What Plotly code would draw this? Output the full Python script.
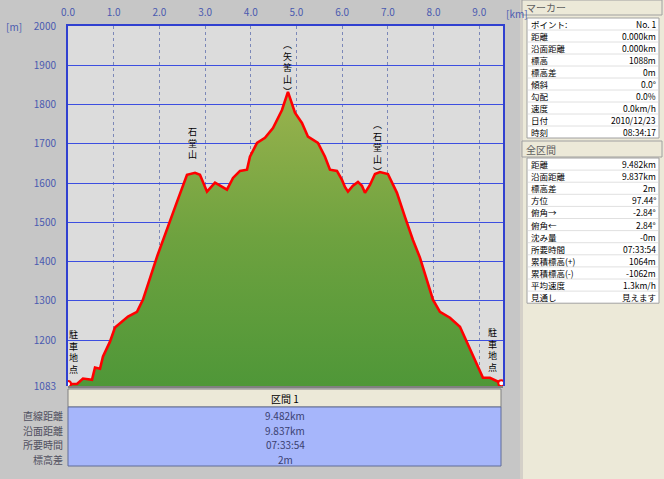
import plotly.graph_objects as go

# ---------------- data ----------------
dist_km = [0.0, 0.197, 0.328, 0.525, 0.591, 0.700, 0.766, 0.919, 1.028, 1.313, 1.510,
           1.641, 1.947, 2.232, 2.385, 2.604, 2.779, 2.888, 3.042, 3.217, 3.326, 3.479,
           3.611, 3.764, 3.917, 3.982, 4.136, 4.311, 4.486, 4.683, 4.814, 4.967, 5.120,
           5.252, 5.470, 5.624, 5.733, 5.886, 5.996, 6.061, 6.127, 6.236, 6.346, 6.433,
           6.499, 6.608, 6.718, 6.827, 7.002, 7.199, 7.374, 7.549, 7.702, 7.856, 7.987,
           8.140, 8.359, 8.578, 8.796, 8.972, 9.081, 9.234, 9.453, 9.482]
elev_m = [1088, 1088, 1102, 1099, 1130, 1127, 1158, 1196, 1232, 1260, 1272,
          1303, 1412, 1506, 1552, 1621, 1626, 1621, 1578, 1601, 1593, 1583,
          1613, 1631, 1634, 1667, 1702, 1715, 1740, 1786, 1832, 1779, 1753,
          1718, 1702, 1667, 1634, 1631, 1608, 1590, 1578, 1593, 1603, 1593,
          1575, 1595, 1623, 1628, 1623, 1575, 1514, 1455, 1410, 1354, 1303,
          1272, 1257, 1234, 1176, 1130, 1104, 1104, 1092, 1090]

y_tick_vals = [1083, 1200, 1300, 1400, 1500, 1600, 1700, 1800, 1900, 2000]
x_tick_vals = [0, 1, 2, 3, 4, 5, 6, 7, 8, 9]
x_tick_text = ["0.0", "1.0", "2.0", "3.0", "4.0", "5.0", "6.0", "7.0", "8.0", "9.0"]

place_names = ["駐車地点", "石堂山", "︵矢筈山︶", "︵石堂山︶", "駐車地点"]
place_km = [0.13, 2.735, 4.814, 6.78, 9.28]
place_top_m = [1237, 1752, 1974, 1770, 1240]

marker_labels = ["ポイント:", "距離", "沿面距離", "標高", "標高差", "傾斜", "勾配", "速度", "日付", "時刻"]
marker_values = ["No. 1", "0.000km", "0.000km", "1088m", "0m", "0.0°", "0.0%", "0.0km/h", "2010/12/23", "08:34:17"]

total_labels = ["距離", "沿面距離", "標高差", "方位", "俯角→", "俯角←", "沈み量", "所要時間",
                "累積標高(+)", "累積標高(-)", "平均速度", "見通し"]
total_values = ["9.482km", "9.837km", "2m", "97.44°", "-2.84°", "2.84°", "-0m", "07:33:54",
                "1064m", "-1062m", "1.3km/h", "見えます"]

section_title = "区間 1"
section_labels = ["直線距離", "沿面距離", "所要時間", "標高差"]
section_values = ["9.482km", "9.837km", "07:33:54", "2m"]

# ---------------- geometry helpers ----------------
W, H = 664, 479
L, R, T, B = 68, 503, 26, 386
FONT = "Noto Sans CJK JP"


def px(x):
    return (x - L) / (R - L)


def py(y):
    return (B - y) / (B - T)


fig = go.Figure()

fig.add_trace(go.Scatter(
    x=dist_km, y=elev_m, mode="lines", fill="tozeroy",
    line=dict(color="#ff0000", width=2.6),
    fillgradient=dict(type="vertical", start=1083, stop=1840,
                      colorscale=[[0, "#4f9738"], [0.5, "#6ea23f"], [1, "#9bb34e"]]),
    hoverinfo="skip", showlegend=False,
))
fig.add_trace(go.Scatter(
    x=[dist_km[0], dist_km[-1]], y=[elev_m[0], elev_m[-1]], mode="markers",
    marker=dict(color="white", size=6, line=dict(color="#ff0000", width=2)),
    hoverinfo="skip", showlegend=False,
))

shapes = []
annots = []

# right panel background
shapes.append(dict(type="rect", xref="paper", yref="paper", x0=px(520), x1=px(523),
                   y0=py(H), y1=py(0), fillcolor="#d4d0c8", line_width=0, layer="below"))
shapes.append(dict(type="rect", xref="paper", yref="paper", x0=px(523), x1=px(W),
                   y0=py(H), y1=py(0), fillcolor="#ece9d8", line_width=0, layer="below"))


def header(y0, y1, text):
    shapes.append(dict(type="rect", xref="paper", yref="paper", x0=px(522), x1=px(662),
                       y0=py(y1), y1=py(y0), fillcolor="#ece9d8",
                       line=dict(color="#a0a0a0", width=1), layer="below"))
    annots.append(dict(xref="paper", yref="paper", x=px(525), y=py((y0 + y1) / 2),
                       text=text, showarrow=False, xanchor="left", yanchor="middle",
                       borderpad=0, font=dict(family=FONT, size=10, color="#606060")))


def table(top, rowh, labels, values):
    n = len(labels)
    shapes.append(dict(type="rect", xref="paper", yref="paper", x0=px(527), x1=px(659),
                       y0=py(top + rowh * n), y1=py(top), fillcolor="white",
                       line=dict(color="#a0a0a0", width=1), layer="below"))
    for i in range(1, n):
        yy = top + rowh * i
        shapes.append(dict(type="line", xref="paper", yref="paper", x0=px(528), x1=px(658),
                           y0=py(yy), y1=py(yy), line=dict(color="#e0e0e0", width=1), layer="below"))
    for i, (lab, val) in enumerate(zip(labels, values)):
        cy = top + rowh * (i + 0.5)
        annots.append(dict(xref="paper", yref="paper", x=px(530), y=py(cy), text=lab,
                           showarrow=False, xanchor="left", yanchor="middle", borderpad=0,
                           font=dict(family=FONT, size=8.5, color="black")))
        annots.append(dict(xref="paper", yref="paper", x=px(657), y=py(cy), text=val,
                           showarrow=False, xanchor="right", yanchor="middle", borderpad=0,
                           font=dict(family=FONT, size=8.5, color="black")))


header(0, 15, "マーカー")
table(18, 12, marker_labels, marker_values)
header(141, 157, "全区間")
table(158, 12.1, total_labels, total_values)

# bottom strip under the plot
shapes.append(dict(type="line", xref="paper", yref="paper", x0=0, x1=1, y0=py(387), y1=py(387),
                   line=dict(color="#808080", width=2)))

# section header and table
shapes.append(dict(type="rect", xref="paper", yref="paper", x0=px(68), x1=px(501),
                   y0=py(407), y1=py(389), fillcolor="#ece9d8",
                   line=dict(color="#808080", width=1)))
annots.append(dict(xref="paper", yref="paper", x=px(285), y=py(398), text=section_title,
                   showarrow=False, xanchor="center", yanchor="middle", borderpad=0,
                   font=dict(family=FONT, size=10, color="black")))
shapes.append(dict(type="rect", xref="paper", yref="paper", x0=px(68), x1=px(501),
                   y0=py(466), y1=py(407), fillcolor="#a6b6fb",
                   line=dict(color="#606c98", width=1)))
sec_y = [415, 430, 444, 459]
for lab, val, yy in zip(section_labels, section_values, sec_y):
    annots.append(dict(xref="paper", yref="paper", x=px(64), y=py(yy), text=lab,
                       showarrow=False, xanchor="right", yanchor="middle", borderpad=0,
                       font=dict(family=FONT, size=10, color="#505060")))
    annots.append(dict(xref="paper", yref="paper", x=px(285), y=py(yy), text=val,
                       showarrow=False, xanchor="center", yanchor="middle", borderpad=0,
                       font=dict(family=FONT, size=10, color="#3a4070")))

# axis unit labels
annots.append(dict(xref="paper", yref="paper", x=px(4), y=py(27), text="[m]",
                   showarrow=False, xanchor="left", yanchor="middle",
                   font=dict(family=FONT, size=10, color="#4a5ab0")))
annots.append(dict(xref="paper", yref="paper", x=px(504), y=py(14), text="[km]",
                   showarrow=False, xanchor="left", yanchor="middle",
                   font=dict(family=FONT, size=10, color="#4a5ab0")))

# vertical place names (one character per line)
for name, km, top_m in zip(place_names, place_km, place_top_m):
    annots.append(dict(xref="x", yref="y", x=km, y=top_m, text="<br>".join(name),
                       showarrow=False, xanchor="center", yanchor="top", align="center",
                       font=dict(family=FONT, size=9, color="black")))

fig.update_layout(
    width=W, height=H,
    margin=dict(l=L, r=W - R, t=T, b=H - B, pad=0, autoexpand=False),
    paper_bgcolor="#c6c6c6", plot_bgcolor="#dcdcdc",
    shapes=shapes, annotations=annots,
    xaxis=dict(range=[0, 9.52], side="top", tickvals=x_tick_vals, ticktext=x_tick_text,
               automargin=False,
               showgrid=True, gridcolor="#7c88b8", griddash="dot", gridwidth=1,
               zeroline=False, showline=True, linecolor="#3040d0", linewidth=2, mirror=False,
               ticks="", ticklabelstandoff=4,
               tickfont=dict(family=FONT, size=10, color="#4a5ab0")),
    yaxis=dict(range=[1083, 2000], tickvals=y_tick_vals, automargin=False,
               showgrid=True, gridcolor="#3c4ee0", gridwidth=1,
               zeroline=False, showline=True, linecolor="#3040d0", linewidth=2, mirror=True,
               ticks="", ticklabelstandoff=8,
               tickfont=dict(family=FONT, size=10, color="#4a5ab0")),
)

fig.write_html("out.html", config={"displayModeBar": False},
               post_script="document.body.style.margin='0';document.body.style.overflow='hidden';")
